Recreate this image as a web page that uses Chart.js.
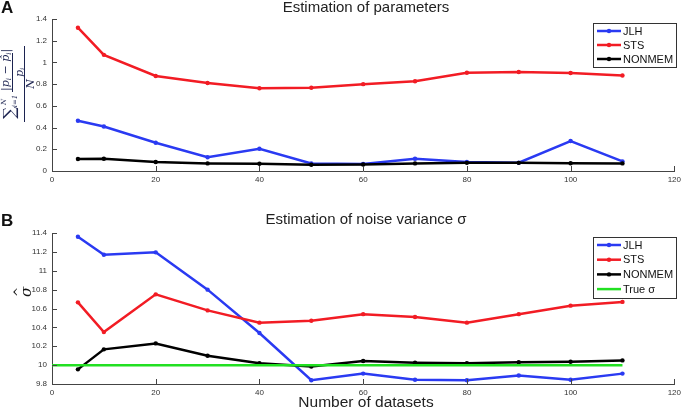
<!DOCTYPE html>
<html>
<head>
<meta charset="utf-8">
<script src="https://cdn.jsdelivr.net/npm/chart.js@4.4.1/dist/chart.umd.min.js"></script>
<style>
  body { margin: 0; background: #fff; }
  #wrap { position: relative; width: 685px; height: 410px; }
  .panel { position: absolute; left: 0; width: 685px; }
  #pa { top: 0; height: 195px; }
  #pb { top: 195px; height: 215px; }
</style>
</head>
<body>
<div id="wrap">
  <div class="panel" id="pa"><canvas id="chartA"></canvas></div>
  <div class="panel" id="pb"><canvas id="chartB"></canvas></div>
</div>
<script>
// number of datasets
const xValues = [5, 10, 20, 30, 40, 50, 60, 70, 80, 90, 100, 110];
const xTicks = [0, 20, 40, 60, 80, 100, 120];

// panel A - estimation of parameters
const jlhA = [0.463, 0.41, 0.26, 0.126, 0.205, 0.07, 0.064, 0.113, 0.083, 0.076, 0.276, 0.089];
const stsA = [1.32, 1.07, 0.875, 0.81, 0.762, 0.767, 0.80, 0.826, 0.905, 0.912, 0.903, 0.88];
const nonmemA = [0.11, 0.113, 0.083, 0.07, 0.067, 0.058, 0.06, 0.07, 0.075, 0.075, 0.072, 0.07];
const yTicksA = [0, 0.2, 0.4, 0.6, 0.8, 1, 1.2, 1.4];

// panel B - estimation of noise variance
const jlhB = [11.36, 11.17, 11.195, 10.80, 10.34, 9.84, 9.91, 9.845, 9.84, 9.89, 9.845, 9.91];
const stsB = [10.665, 10.35, 10.75, 10.58, 10.45, 10.47, 10.54, 10.51, 10.45, 10.54, 10.63, 10.67];
const nonmemB = [9.955, 10.167, 10.23, 10.10, 10.02, 9.985, 10.044, 10.026, 10.02, 10.03, 10.036, 10.05];
const trueX = [0, 110];
const trueSigma = [10, 10];
const yTicksB = [9.8, 10, 10.2, 10.4, 10.6, 10.8, 11, 11.2, 11.4];

const BLUE = '#2a3af2';
const RED = '#f21c24';
const BLACK = '#000000';
const GREEN = '#22e022';
const SANS = '"Liberation Sans", Arial, sans-serif';
const SERIF = '"DejaVu Serif", "Liberation Serif", serif';

function pts(xs, ys) {
    return xs.map((x, i) => ({ x: x, y: ys[i] }));
}

function series(label, xs, ys, color, order, marker) {
    return {
        label: label,
        data: pts(xs, ys),
        borderColor: color,
        backgroundColor: color,
        borderWidth: 2.5,
        pointRadius: marker ? 2.2 : 0,
        pointHoverRadius: 0,
        pointBorderWidth: 0,
        tension: 0,
        order: order,
        marker: marker
    };
}

function fmt(v) {
    return String(Math.round(v * 10) / 10);
}

// draws text centred on (x, y), rotated a quarter turn anticlockwise
function rotText(ctx, text, x, y, font) {
    ctx.save();
    ctx.translate(x, y);
    ctx.rotate(-Math.PI / 2);
    ctx.font = font;
    ctx.textAlign = 'center';
    ctx.textBaseline = 'middle';
    ctx.fillText(text, 0, 0);
    ctx.restore();
}

// rotated runs of text, starting at screen y and going up; dv shifts toward the right (subscript)
function rotRuns(ctx, runs, x, y) {
    ctx.save();
    ctx.translate(x, y);
    ctx.rotate(-Math.PI / 2);
    ctx.textAlign = 'left';
    ctx.textBaseline = 'middle';
    let u = 0;
    runs.forEach(r => {
        ctx.font = r[1];
        ctx.fillText(r[0], u, r[2] || 0);
        u += ctx.measureText(r[0]).width;
    });
    ctx.restore();
}

// matlab style inward ticks + boxed legend + titles
const decoPlugin = {
    id: 'deco',
    afterDraw(chart, args, opts) {
        const ctx = chart.ctx;
        const area = chart.chartArea;
        const xs = chart.scales.x, ys = chart.scales.y;
        ctx.save();
        ctx.strokeStyle = '#444';
        ctx.lineWidth = 1;
        ctx.beginPath();
        xs.ticks.forEach(t => {
            const px = Math.round(xs.getPixelForValue(t.value)) + 0.5;
            ctx.moveTo(px, area.bottom);
            ctx.lineTo(px, area.bottom - 5);
        });
        ys.ticks.forEach(t => {
            const py = Math.round(ys.getPixelForValue(t.value)) + 0.5;
            ctx.moveTo(area.left, py);
            ctx.lineTo(area.left + 5, py);
        });
        ctx.stroke();

        // legend
        const lg = opts.legend;
        const items = chart.data.datasets;
        ctx.fillStyle = '#fff';
        ctx.fillRect(lg.x, lg.y, lg.w, lg.h);
        ctx.strokeStyle = '#333';
        ctx.strokeRect(lg.x + 0.5, lg.y + 0.5, lg.w, lg.h);
        items.forEach((ds, i) => {
            const cy = lg.y + lg.first + i * lg.step;
            ctx.strokeStyle = ds.borderColor;
            ctx.lineWidth = 2.5;
            ctx.beginPath();
            ctx.moveTo(lg.x + 4, cy);
            ctx.lineTo(lg.x + 28, cy);
            ctx.stroke();
            if (ds.marker) {
                ctx.fillStyle = ds.borderColor;
                ctx.beginPath();
                ctx.arc(lg.x + 16, cy, 2.2, 0, Math.PI * 2);
                ctx.fill();
            }
            ctx.fillStyle = '#111';
            ctx.font = '11px ' + SANS;
            ctx.textAlign = 'left';
            ctx.textBaseline = 'middle';
            ctx.fillText(ds.label, lg.x + 30, cy + 0.5);
        });

        // panel letter and title
        ctx.fillStyle = '#111';
        ctx.font = 'bold 17px ' + SANS;
        ctx.textAlign = 'left';
        ctx.textBaseline = 'middle';
        ctx.fillText(opts.letter, 1, opts.letterY);
        ctx.font = '15px ' + SANS;
        ctx.textAlign = 'center';
        ctx.fillStyle = '#222';
        ctx.fillText(opts.title, 366, opts.titleY);
        if (opts.xlabel) {
            ctx.font = '15.5px ' + SANS;
            ctx.fillText(opts.xlabel, 366, opts.xlabelY);
        }
        if (opts.ylabel) opts.ylabel(ctx);
        ctx.restore();
    }
};

function axisOpts(ticksArr, min, max, isX, size, pad) {
    return {
        type: 'linear',
        min: min,
        max: max,
        afterBuildTicks: s => { s.ticks = ticksArr.map(v => ({ value: v })); },
        afterFit: s => { if (isX) s.height = size; else s.width = size; },
        grid: { display: true, drawOnChartArea: false, drawTicks: false },
        border: { display: true, color: '#444', width: 1 },
        ticks: {
            color: '#333',
            font: { size: 8, family: SANS },
            padding: pad,
            maxRotation: 0,
            autoSkip: false,
            callback: v => fmt(v)
        }
    };
}

function makeChart(id, datasets, yTicks, ymin, ymax, padding, xHeight, deco) {
    return new Chart(document.getElementById(id), {
        type: 'line',
        data: { datasets: datasets },
        options: {
            responsive: true,
            maintainAspectRatio: false,
            animation: false,
            events: [],
            layout: { padding: padding },
            plugins: { legend: { display: false }, tooltip: { enabled: false }, deco: deco },
            scales: {
                x: axisOpts(xTicks, 0, 120, true, xHeight, 4),
                y: axisOpts(yTicks, ymin, ymax, false, 52, 5)
            }
        },
        plugins: [decoPlugin]
    });
}

makeChart('chartA', [
    series('JLH', xValues, jlhA, BLUE, 2, true),
    series('STS', xValues, stsA, RED, 1, true),
    series('NONMEM', xValues, nonmemA, BLACK, 0, true)
], yTicksA, 0, 1.4, { left: 0, right: 6, top: 19, bottom: 0 }, 24, {
    letter: 'A', letterY: 8, title: 'Estimation of parameters', titleY: 8,
    legend: { x: 593, y: 23, w: 83, h: 44, first: 8, step: 14 },
    ylabel: ctx => {
        const c = '#1c2350';
        ctx.fillStyle = c;
        ctx.strokeStyle = c;
        const it = 'italic 11px ' + SERIF, sub = 'italic 7px ' + SERIF;
        rotText(ctx, '\u2211', 11, 113, '17px ' + SERIF);
        rotText(ctx, 'N', 4, 102, sub);
        rotText(ctx, 'i=1', 15, 101, sub);
        rotRuns(ctx, [['|p', it], ['i', sub, 3], [' \u2212 ', it], ['p\u0302', it], ['i', sub, 3], ['|', it]], 6, 91);
        rotRuns(ctx, [['p', it], ['i', sub, 3]], 20, 77);
        ctx.lineWidth = 1;
        ctx.beginPath();
        ctx.moveTo(12.5, 53); ctx.lineTo(12.5, 92);
        ctx.moveTo(24.5, 46); ctx.lineTo(24.5, 122);
        ctx.stroke();
        rotText(ctx, 'N', 31, 84, 'italic 11px ' + SERIF);
    }
});

makeChart('chartB', [
    series('JLH', xValues, jlhB, BLUE, 3, true),
    series('STS', xValues, stsB, RED, 2, true),
    series('NONMEM', xValues, nonmemB, BLACK, 1, true),
    series('True \u03C3', trueX, trueSigma, GREEN, 0, false)
], yTicksB, 9.8, 11.4, { left: 0, right: 6, top: 38, bottom: 0 }, 26, {
    letter: 'B', letterY: 26, title: 'Estimation of noise variance \u03C3', titleY: 25,
    xlabel: 'Number of datasets', xlabelY: 208,
    legend: { x: 593, y: 42, w: 83, h: 61, first: 8, step: 14.7 },
    ylabel: ctx => {
        ctx.fillStyle = '#111';
        rotText(ctx, '\u03C3', 27, 97, 'italic 15px ' + SERIF);
        rotText(ctx, '^', 20, 97, '12px ' + SERIF);
    }
});
</script>
</body>
</html>
